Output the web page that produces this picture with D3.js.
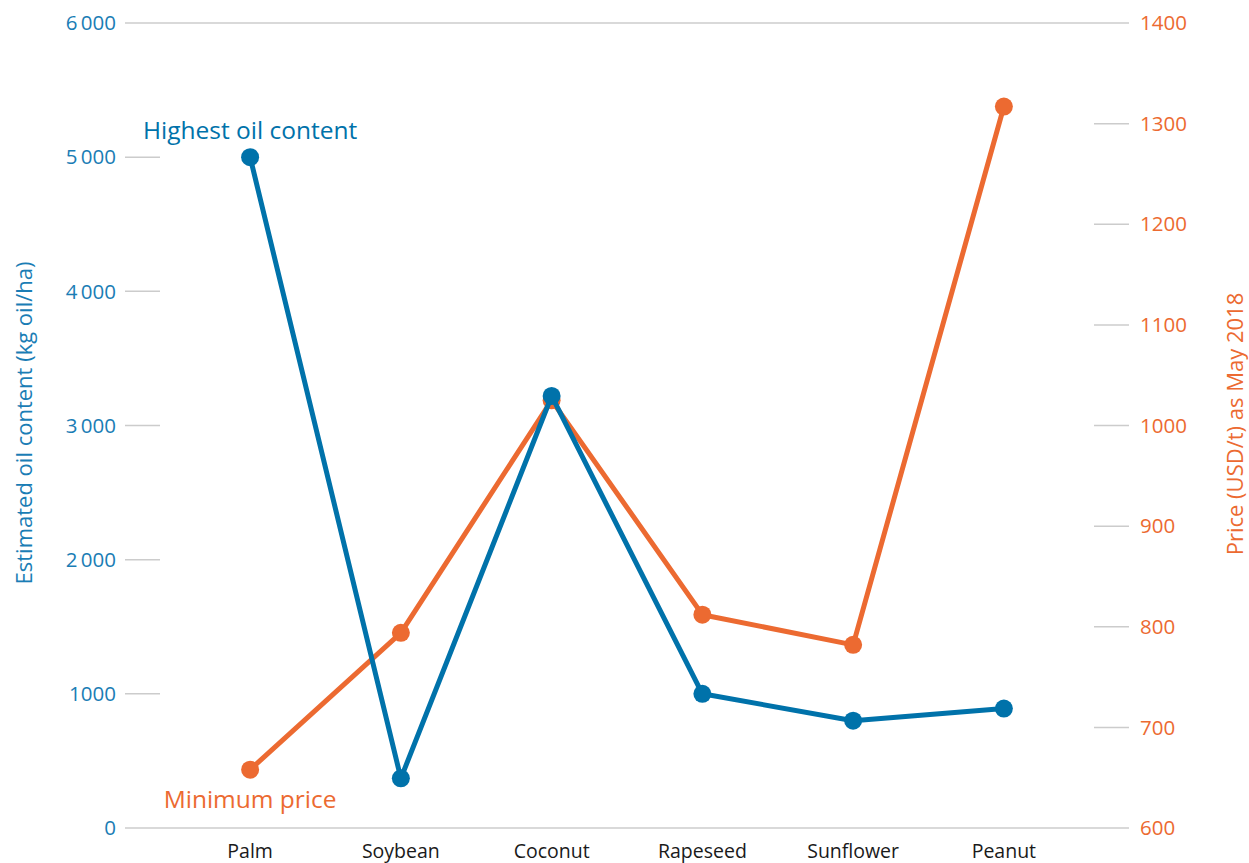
<!DOCTYPE html>
<html>
<head>
<meta charset="utf-8">
<script src="https://cdn.jsdelivr.net/npm/d3@7"></script>
<style>
  html, body { margin: 0; padding: 0; background: #fff; }
  svg { display: block; font-family: "Open Sans", "Noto Sans", sans-serif; }
</style>
</head>
<body>
<svg id="chart" width="1249" height="863"></svg>
<script>
// Crops compared
const crops = ["Palm", "Soybean", "Coconut", "Rapeseed", "Sunflower", "Peanut"];
// Estimated oil content, kg oil per hectare
const oilContent = [5000, 370, 3220, 1000, 800, 890];
// Minimum price, USD per tonne (May 2018)
const minPrice = [658, 794, 1025, 812, 782, 1317];
// Axis ticks
const oilTicks = [0, 1000, 2000, 3000, 4000, 5000, 6000];
const priceTicks = [600, 700, 800, 900, 1000, 1100, 1200, 1300, 1400];

(function () {
  const blue = "#0072aa";
  const orange = "#ec6a31";
  const grid = "#cccccc";

  const svg = d3.select("#chart");
  const plotLeft = 125, plotRight = 1129, plotTop = 23, plotBottom = 828;

  const x = d3.scalePoint().domain(crops).range([plotLeft, plotRight]).padding(0.83);
  const yOil = d3.scaleLinear().domain([0, 6000]).range([plotBottom, plotTop]);
  const yPrice = d3.scaleLinear().domain([600, 1400]).range([plotBottom, plotTop]);

  const fmtOil = v => v >= 2000 ? d3.format(",")(v).replace(",", "\u2009") : String(v);

  // Grid: full lines at the ends, short stubs for inner ticks
  const g = svg.append("g");
  oilTicks.forEach(v => {
    const full = v === 0 || v === 6000;
    g.append("line")
      .attr("x1", plotLeft).attr("x2", full ? plotRight : plotLeft + 35)
      .attr("y1", yOil(v)).attr("y2", yOil(v))
      .attr("stroke", grid).attr("stroke-width", 1.5);
  });
  priceTicks.forEach(v => {
    if (v === 600 || v === 1400) return;
    g.append("line")
      .attr("x1", plotRight - 35).attr("x2", plotRight)
      .attr("y1", yPrice(v)).attr("y2", yPrice(v))
      .attr("stroke", grid).attr("stroke-width", 1.5);
  });

  // Left axis labels
  svg.append("g").selectAll("text").data(oilTicks).join("text")
    .attr("x", 116).attr("y", d => yOil(d)).attr("dy", "0.35em")
    .attr("text-anchor", "end").attr("fill", "#1a7db5")
    .attr("font-size", 20.5).text(d => fmtOil(d));

  // Right axis labels
  svg.append("g").selectAll("text").data(priceTicks).join("text")
    .attr("x", 1140).attr("y", d => yPrice(d)).attr("dy", "0.35em")
    .attr("text-anchor", "start").attr("fill", orange)
    .attr("font-size", 20.5).text(d => d);

  // Category labels
  svg.append("g").selectAll("text").data(crops).join("text")
    .attr("x", d => x(d)).attr("y", 858)
    .attr("text-anchor", "middle").attr("fill", "#1a1a1a")
    .attr("font-size", 19.5).text(d => d);

  // Axis titles
  svg.append("text")
    .attr("transform", "translate(32,423) rotate(-90)")
    .attr("text-anchor", "middle").attr("fill", "#1a7db5")
    .attr("font-size", 22).text("Estimated oil content (kg oil/ha)");
  svg.append("text")
    .attr("transform", "translate(1243,424) rotate(-90)")
    .attr("text-anchor", "middle").attr("fill", orange)
    .attr("font-size", 22).text("Price (USD/t) as May 2018");

  // Price line (drawn first, sits beneath the oil line)
  const priceData = crops.map((c, i) => ({ c, v: minPrice[i] }));
  svg.append("path")
    .datum(priceData)
    .attr("fill", "none").attr("stroke", orange).attr("stroke-width", 5)
    .attr("stroke-linejoin", "round")
    .attr("d", d3.line().x(d => x(d.c)).y(d => yPrice(d.v)));
  svg.append("g").selectAll("circle").data(priceData).join("circle")
    .attr("cx", d => x(d.c)).attr("cy", d => yPrice(d.v)).attr("r", 9)
    .attr("fill", orange);

  // Oil content line
  const oilData = crops.map((c, i) => ({ c, v: oilContent[i] }));
  svg.append("path")
    .datum(oilData)
    .attr("fill", "none").attr("stroke", blue).attr("stroke-width", 5)
    .attr("stroke-linejoin", "round")
    .attr("d", d3.line().x(d => x(d.c)).y(d => yOil(d.v)));
  svg.append("g").selectAll("circle").data(oilData).join("circle")
    .attr("cx", d => x(d.c)).attr("cy", d => yOil(d.v)).attr("r", 9)
    .attr("fill", blue);

  // Series annotations
  svg.append("text")
    .attr("x", x("Palm")).attr("y", 139).attr("text-anchor", "middle")
    .attr("fill", blue).attr("font-size", 24.5).text("Highest oil content");
  svg.append("text")
    .attr("x", x("Palm")).attr("y", 808).attr("text-anchor", "middle")
    .attr("fill", orange).attr("font-size", 24.5).text("Minimum price");
})();
</script>
</body>
</html>
